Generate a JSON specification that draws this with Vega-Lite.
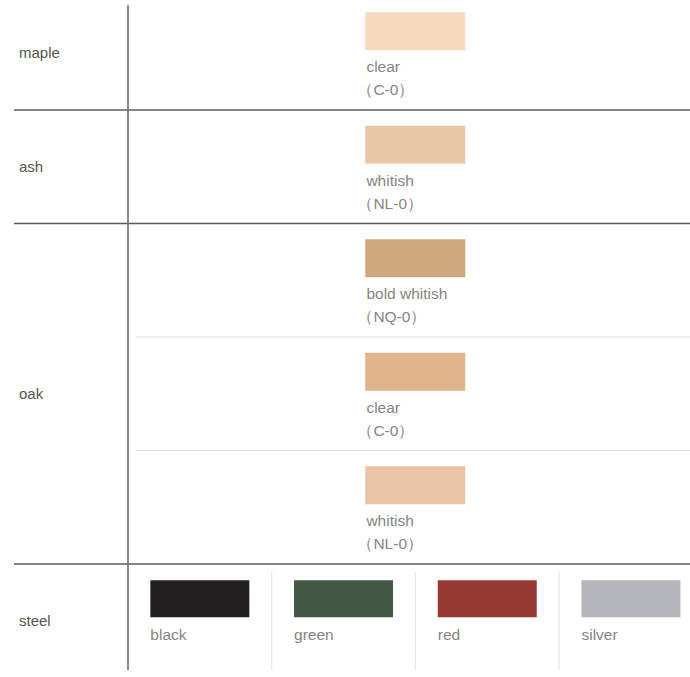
{
  "$schema": "https://vega.github.io/schema/vega-lite/v6.json",
  "width": 690,
  "height": 677,
  "padding": 0,
  "autosize": {"type": "none"},
  "background": "#ffffff",
  "config": {"view": {"stroke": null}, "axis": {"disable": true}},
  "datasets": {
    "swatches": [
      {"material": "maple", "row": 0, "col": 3, "name": "clear", "code": "（C-0）", "color": "#f5dabb"},
      {"material": "ash", "row": 1, "col": 3, "name": "whitish", "code": "（NL-0）", "color": "#e6c8a6"},
      {"material": "oak", "row": 2, "col": 3, "name": "bold whitish", "code": "（NQ-0）", "color": "#cfa77c"},
      {"material": "oak", "row": 3, "col": 3, "name": "clear", "code": "（C-0）", "color": "#e0b589"},
      {"material": "oak", "row": 4, "col": 3, "name": "whitish", "code": "（NL-0）", "color": "#e9c4a6"}
    ],
    "steel": [
      {"material": "steel", "row": 5, "col": 1, "name": "black", "color": "#231f20"},
      {"material": "steel", "row": 5, "col": 2, "name": "green", "color": "#425844"},
      {"material": "steel", "row": 5, "col": 3, "name": "red", "color": "#983a34"},
      {"material": "steel", "row": 5, "col": 4, "name": "silver", "color": "#b4b6bb"}
    ],
    "materials": [
      {"material": "maple", "row": 0},
      {"material": "ash", "row": 1},
      {"material": "oak", "row": 3},
      {"material": "steel", "row": 5}
    ],
    "groupLines": [{"row": 1}, {"row": 2}, {"row": 5}],
    "subLines": [{"row": 3}, {"row": 4}],
    "steelDividers": [{"col": 2}, {"col": 3}, {"col": 4}]
  },
  "encoding": {
    "x": {"field": "col", "type": "ordinal", "scale": {"domain": [0, 1, 2, 3, 4], "range": [-15.7, 702.8], "paddingInner": 0, "paddingOuter": 0}, "axis": null},
    "y": {"field": "row", "type": "ordinal", "scale": {"domain": [0, 1, 2, 3, 4, 5], "range": [-3.5, 677.5], "paddingInner": 0, "paddingOuter": 0}, "axis": null}
  },
  "layer": [
    {
      "data": {"name": "groupLines"},
      "mark": {"type": "rule", "stroke": "#5a5a5a", "strokeWidth": 1.6, "xOffset": 29.7},
      "encoding": {
        "x": {"datum": 0, "type": "ordinal", "bandPosition": 0},
        "x2": {"value": "width"},
        "y": {"field": "row", "type": "ordinal", "bandPosition": 0}
      }
    },
    {
      "data": {"name": "subLines"},
      "mark": {"type": "rule", "stroke": "#dcdcdc", "strokeWidth": 1, "xOffset": 8},
      "encoding": {
        "x": {"datum": 1, "type": "ordinal", "bandPosition": 0},
        "x2": {"value": "width"},
        "y": {"field": "row", "type": "ordinal", "bandPosition": 0}
      }
    },
    {
      "data": {"name": "steelDividers"},
      "mark": {"type": "rule", "stroke": "#e2e2e2", "strokeWidth": 1, "yOffset": 8, "y2Offset": -7},
      "encoding": {
        "x": {"field": "col", "type": "ordinal", "bandPosition": 0},
        "y": {"datum": 5, "type": "ordinal", "bandPosition": 0},
        "y2": {"value": "height"}
      }
    },
    {
      "data": {"values": [{"col": 1}]},
      "mark": {"type": "rule", "stroke": "#6e6e6e", "strokeWidth": 1.6, "yOffset": 8.5, "y2Offset": -7},
      "encoding": {
        "x": {"field": "col", "type": "ordinal", "bandPosition": 0},
        "y": {"datum": 0, "type": "ordinal", "bandPosition": 0},
        "y2": {"value": "height"}
      }
    },
    {
      "data": {"name": "swatches"},
      "mark": {"type": "rect", "width": 100, "height": 38, "yOffset": -22, "xOffset": -72},
      "encoding": {
        "fill": {"field": "color", "type": "nominal", "scale": null, "legend": null}
      }
    },
    {
      "data": {"name": "swatches"},
      "mark": {"type": "text", "align": "left", "baseline": "alphabetic", "dx": -49, "yOffset": 19, "font": "Liberation Sans", "fontSize": 15.5, "fill": "#858585"},
      "encoding": {
        "x": {"field": "col", "type": "ordinal", "bandPosition": 0},
        "text": {"field": "name"}
      }
    },
    {
      "data": {"name": "swatches"},
      "mark": {"type": "text", "align": "left", "baseline": "alphabetic", "dx": -58, "yOffset": 42, "font": "Liberation Sans", "fontSize": 15.5, "fill": "#858585"},
      "encoding": {
        "x": {"field": "col", "type": "ordinal", "bandPosition": 0},
        "text": {"field": "code"}
      }
    },
    {
      "data": {"name": "steel"},
      "mark": {"type": "rect", "width": 99, "height": 37, "yOffset": -22},
      "encoding": {
        "fill": {"field": "color", "type": "nominal", "scale": null, "legend": null}
      }
    },
    {
      "data": {"name": "steel"},
      "mark": {"type": "text", "align": "left", "baseline": "alphabetic", "dx": -49.5, "yOffset": 19, "font": "Liberation Sans", "fontSize": 15.5, "fill": "#858585"},
      "encoding": {
        "text": {"field": "name"}
      }
    },
    {
      "data": {"name": "materials"},
      "mark": {"type": "text", "align": "left", "baseline": "middle", "dx": 34.7, "font": "Liberation Sans", "fontSize": 15, "fill": "#555555"},
      "encoding": {
        "x": {"datum": 0, "type": "ordinal", "bandPosition": 0},
        "text": {"field": "material"}
      }
    }
  ]
}
